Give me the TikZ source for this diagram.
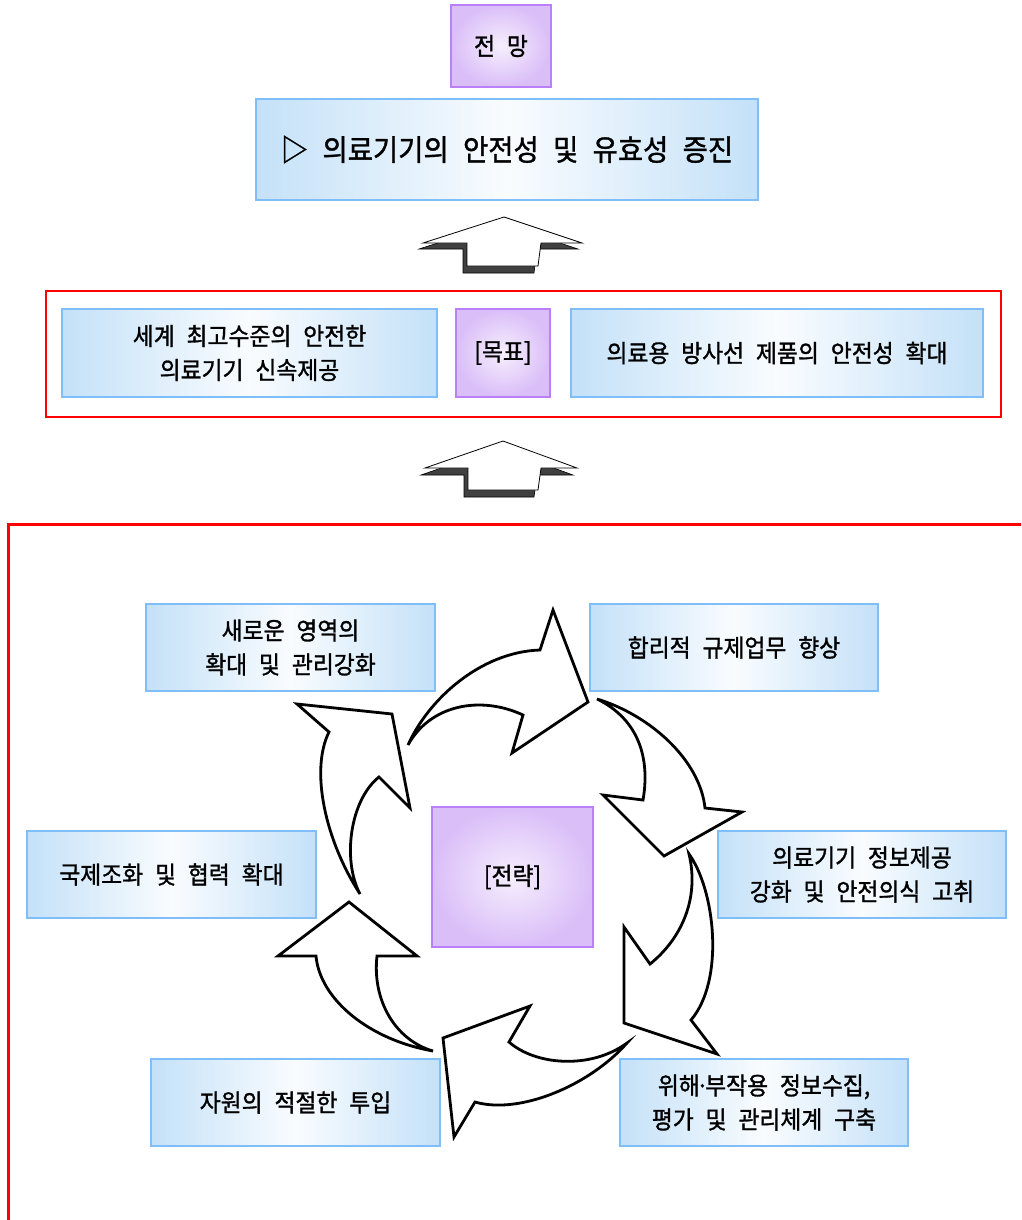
\documentclass[tikz,border=0pt]{standalone}
\usepackage{fontspec}
\setmainfont{Noto Sans CJK KR}[WordSpace=2.33, FakeBold=1.2, FakeStretch=0.93]
\definecolor{bluebd}{RGB}{128,190,250}
\definecolor{bluefill}{RGB}{196,225,248}
\definecolor{purpbd}{RGB}{185,128,250}
\definecolor{purpfill}{RGB}{218,190,248}
\definecolor{shadowgray}{RGB}{64,64,64}
\begin{document}
\begin{tikzpicture}[x=1pt,y=-1pt,
  bluebox/.style={draw=bluebd, line width=2pt, left color=bluefill, right color=bluefill,
    middle color=white!90!bluefill, inner sep=0pt, align=center,
    font=\fontsize{24.5}{34}\selectfont},
  purplebox/.style={draw=purpbd, line width=2pt, inner color=white!75!purpfill,
    outer color=purpfill, inner sep=0pt, align=center, font=\fontsize{24.5}{34}\selectfont},
  redframe/.style={draw=red, line width=2.2pt},
  cyclearrow/.style={draw=black, fill=white, line width=2.8pt, line join=miter},
  upshadow/.style={draw=black, fill=shadowgray, line width=0.6pt},
  upwhite/.style={draw=black, fill=white, line width=0.8pt}
]
\useasboundingbox (0,0) rectangle (1021,1220);
\clip (0,0) rectangle (1021,1220);

% vision
\node[purplebox, minimum width=100pt, minimum height=82pt] (vision) at (501,46) {전 망};
\node[bluebox, minimum width=502pt, minimum height=101pt, font=\fontsize{29.5}{30}\selectfont] (title) at (507,149.5) {▷ 의료기기의 안전성 및 유효성 증진};

% up arrow 1
\draw[upshadow] (500,223) -- (419,249) -- (463,249) -- (463,273) -- (534,273) -- (537,249) -- (578,249) -- cycle;
\draw[upwhite] (504,217) -- (423,243) -- (467,243) -- (467,266) -- (538,266) -- (541,243) -- (582,243) -- cycle;

% goals
\draw[redframe] (46,291) rectangle (1001,417);
\node[bluebox, minimum width=375pt, minimum height=88pt] (goalL) at (249.5,353) {세계 최고수준의 안전한\\의료기기 신속제공};
\node[purplebox, minimum width=94pt, minimum height=88pt] (goal) at (503,353) {[목표]};
\node[bluebox, minimum width=412pt, minimum height=88pt] (goalR) at (777,353) {의료용 방사선 제품의 안전성 확대};

% up arrow 2
\draw[upshadow] (499,448) -- (421,475) -- (464,475) -- (464,497) -- (534,497) -- (537,475) -- (573,475) -- cycle;
\draw[upwhite] (503,441) -- (425,468) -- (468,468) -- (468,490) -- (538,490) -- (541,468) -- (577,468) -- cycle;

% strategy frame
\draw[draw=red, line width=3pt] (8.5,1240) -- (8.5,524.5) -- (1040,524.5);

% strategy boxes
\node[bluebox, minimum width=289pt, minimum height=87pt] (s1) at (290.5,647.5) {새로운 영역의\\확대 및 관리강화};
\node[bluebox, minimum width=288pt, minimum height=87pt] (s2) at (734,647.5) {합리적 규제업무 향상};
\node[bluebox, minimum width=288pt, minimum height=87pt] (s3) at (862,874.5) {의료기기 정보제공\\강화 및 안전의식 고취};
\node[bluebox, minimum width=288pt, minimum height=87pt] (s4) at (764,1102.5) {위해\kern-0.15em·\kern-0.15em부작용 정보수집,\\평가 및 관리체계 구축};
\node[bluebox, minimum width=289pt, minimum height=87pt] (s5) at (295.5,1102.5) {자원의 적절한 투입};
\node[bluebox, minimum width=289pt, minimum height=87pt] (s6) at (171.5,874.5) {국제조화 및 협력 확대};
\node[purplebox, minimum width=161pt, minimum height=140pt] (strat) at (512.5,877) {[전략]};

% cycle arrows
\draw[cyclearrow] (408,745) .. controls (428,700) and (480,652) .. (540,650) -- (553,610) -- (588,702) -- (512,753) -- (523,715) .. controls (480,695) and (430,705) .. (408,745) -- cycle;
\draw[cyclearrow] (597,699) .. controls (650,715) and (700,760) .. (705,808) -- (742,812) -- (664,856) -- (603,795) -- (643,800) .. controls (650,760) and (640,720) .. (597,699) -- cycle;
\draw[cyclearrow] (689,854) .. controls (715,890) and (725,980) .. (691,1020) -- (717,1054) -- (624,1023) -- (624,927) -- (650,964) .. controls (680,940) and (700,900) .. (689,854) -- cycle;
\draw[cyclearrow] (627,1043) .. controls (590,1085) and (520,1115) .. (475,1102) -- (454,1137) -- (443,1038) -- (530,1006) -- (509,1042) .. controls (535,1065) and (590,1070) .. (627,1043) -- cycle;
\draw[cyclearrow] (433,1051) .. controls (370,1040) and (320,1000) .. (316,956) -- (278,956) -- (349,902) -- (417,956) -- (377,956) .. controls (372,1000) and (395,1040) .. (433,1051) -- cycle;
\draw[cyclearrow] (360,894) .. controls (325,840) and (310,770) .. (329,732) -- (297,704) -- (392,714) -- (410,808) -- (379,777) .. controls (350,800) and (342,860) .. (360,894) -- cycle;
\end{tikzpicture}
\end{document}
